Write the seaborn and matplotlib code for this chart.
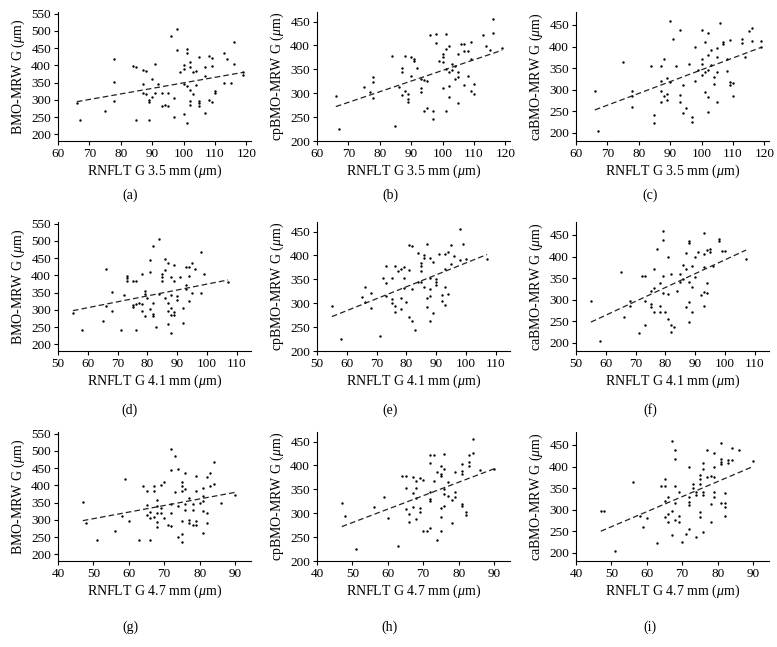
"""
Scatter plots of BMO-MRW sectors vs RNFLT at three scan radii
"""
import matplotlib
matplotlib.use("Agg")
import matplotlib.pyplot as plt
import seaborn as sns
import pandas as pd

# panel (a): RNFLT 3.5 vs BMO-MRW
a_x = [66, 67, 75, 78, 78, 78, 84, 85, 85, 87, 88, 87, 87, 88, 89, 89, 89, 90, 90, 91,
       91, 92, 93, 93, 94, 95, 95, 96, 97, 97, 98, 98, 99, 100, 100, 100, 100, 101, 101, 101,
       101, 102, 102, 102, 102, 102, 103, 103, 104, 104, 105, 105, 105, 105, 107, 107, 107, 108, 108, 109,
       109, 109, 110, 110, 113, 113, 114, 115, 116, 116, 119, 119]
a_y = [292, 242, 268, 420, 352, 298, 398, 396, 242, 386, 385, 345, 320, 318, 300, 295, 242, 360, 310, 405,
       320, 345, 282, 320, 285, 283, 320, 484, 305, 252, 506, 446, 380, 400, 390, 345, 260, 447, 436, 340,
       232, 410, 395, 330, 298, 285, 380, 318, 385, 342, 425, 298, 290, 283, 395, 370, 262, 428, 300, 423,
       398, 293, 325, 320, 436, 350, 418, 348, 468, 405, 380, 373]

# panel (b): RNFLT 3.5 vs cpBMO-MRW
b_x = [66, 67, 75, 77, 78, 78, 78, 84, 85, 86, 87, 87, 87, 88, 88, 89, 89, 89, 90, 90,
       91, 91, 92, 93, 93, 93, 94, 94, 95, 95, 96, 97, 97, 98, 98, 99, 100, 100, 100, 100,
       101, 101, 101, 101, 102, 102, 102, 102, 103, 103, 104, 104, 105, 105, 105, 105, 106, 107, 107, 107,
       108, 108, 109, 109, 109, 110, 110, 113, 114, 115, 116, 116, 119]
b_y = [295, 225, 314, 302, 333, 323, 290, 378, 232, 312, 352, 345, 296, 377, 305, 287, 282, 298, 376, 337,
       372, 367, 352, 330, 310, 302, 328, 263, 270, 325, 422, 262, 245, 423, 406, 368, 383, 375, 365, 310,
       424, 392, 350, 263, 398, 345, 315, 292, 362, 348, 358, 330, 382, 345, 335, 280, 403, 403, 388, 318,
       388, 337, 408, 372, 305, 320, 298, 422, 398, 390, 455, 426, 395]

# panel (c): RNFLT 3.5 vs caBMO-MRW
c_x = [66, 67, 75, 78, 78, 78, 84, 85, 85, 87, 87, 87, 87, 88, 88, 89, 89, 89, 90, 90,
       91, 92, 93, 93, 93, 94, 94, 95, 96, 97, 97, 98, 98, 99, 100, 100, 100, 100, 101, 101,
       101, 102, 102, 102, 102, 102, 103, 103, 104, 104, 105, 105, 105, 105, 106, 107, 107, 108, 108, 109,
       109, 109, 110, 110, 113, 113, 114, 115, 116, 116, 119, 119]
c_y = [298, 205, 365, 297, 285, 260, 355, 242, 222, 355, 320, 298, 272, 370, 285, 290, 275, 328, 460, 318,
       418, 355, 438, 288, 272, 310, 245, 257, 360, 225, 237, 398, 320, 345, 438, 370, 360, 335, 410, 340,
       295, 432, 380, 345, 282, 248, 393, 358, 330, 312, 397, 375, 340, 272, 455, 410, 405, 372, 344, 415,
       318, 310, 315, 286, 417, 407, 375, 437, 442, 413, 412, 398]

# panel (d): RNFLT 4.1 vs BMO-MRW
d_x = [55, 58, 65, 66, 66, 68, 68, 71, 72, 73, 73, 73, 75, 75, 75, 76, 76, 76, 77, 78,
       78, 78, 79, 79, 79, 80, 81, 81, 81, 82, 82, 82, 82, 83, 84, 84, 85, 85, 85, 86,
       86, 86, 87, 87, 87, 87, 88, 88, 88, 88, 88, 89, 89, 89, 89, 90, 90, 91, 92, 92,
       93, 93, 93, 94, 94, 94, 95, 95, 96, 98, 98, 99, 107]
d_y = [292, 242, 268, 420, 312, 352, 298, 242, 342, 398, 392, 383, 385, 315, 308, 383, 318, 242, 320, 318,
       298, 403, 355, 345, 282, 335, 445, 410, 302, 484, 320, 288, 282, 250, 505, 345, 395, 385, 405, 448,
       415, 335, 435, 320, 298, 260, 395, 342, 305, 285, 233, 430, 383, 293, 285, 340, 330, 395, 262, 305,
       425, 372, 362, 425, 398, 325, 435, 350, 418, 468, 348, 403, 380]

# panel (e): RNFLT 4.1 vs cpBMO-MRW
e_x = [55, 58, 65, 66, 66, 68, 68, 71, 72, 73, 73, 73, 75, 75, 75, 76, 76, 76, 77, 78,
       78, 78, 79, 79, 79, 80, 81, 81, 81, 82, 82, 82, 83, 84, 84, 85, 85, 85, 85, 86,
       86, 86, 87, 87, 87, 88, 88, 88, 88, 88, 89, 89, 90, 90, 90, 91, 92, 92, 93, 93,
       93, 93, 94, 94, 95, 95, 96, 98, 98, 99, 100, 107]
e_y = [295, 225, 313, 333, 302, 322, 290, 232, 352, 378, 343, 315, 352, 308, 300, 378, 295, 282, 367, 372,
       310, 287, 375, 352, 332, 303, 422, 370, 272, 420, 262, 330, 245, 405, 345, 385, 378, 368, 345, 400,
       395, 335, 425, 310, 292, 395, 352, 330, 315, 263, 387, 280, 350, 345, 338, 403, 318, 305, 402, 372,
       335, 297, 407, 320, 422, 382, 398, 455, 390, 425, 393, 392]

# panel (f): RNFLT 4.1 vs caBMO-MRW
f_x = [55, 58, 65, 66, 68, 68, 71, 72, 73, 73, 73, 75, 75, 75, 76, 76, 76, 77, 78, 78,
       78, 79, 79, 79, 79, 80, 81, 81, 81, 82, 82, 82, 83, 84, 85, 85, 86, 86, 87, 87,
       87, 88, 88, 88, 88, 88, 89, 89, 89, 90, 90, 91, 92, 93, 93, 93, 93, 93, 94, 94,
       94, 95, 95, 96, 98, 98, 99, 100, 107]
f_y = [298, 205, 365, 260, 297, 285, 222, 355, 355, 298, 242, 290, 282, 320, 370, 328, 272, 418, 285, 272,
       338, 460, 438, 355, 315, 272, 398, 312, 256, 360, 242, 226, 236, 320, 360, 340, 380, 348, 408, 372,
       282, 436, 432, 340, 295, 248, 378, 330, 272, 398, 352, 410, 310, 455, 405, 375, 318, 286, 415, 338,
       316, 418, 410, 378, 440, 436, 413, 413, 395]

# panel (g): RNFLT 4.7 vs BMO-MRW
g_x = [47, 48, 51, 56, 58, 59, 60, 63, 64, 65, 65, 65, 66, 66, 66, 67, 67, 67, 68, 68,
       68, 68, 68, 69, 69, 69, 70, 70, 71, 72, 72, 72, 72, 72, 73, 73, 74, 74, 74, 75,
       75, 75, 75, 75, 75, 76, 76, 76, 76, 77, 77, 77, 78, 78, 78, 79, 79, 79, 79, 80,
       81, 81, 81, 81, 81, 82, 82, 82, 83, 83, 84, 84, 86, 90]
g_y = [352, 292, 242, 268, 312, 420, 298, 242, 398, 385, 342, 315, 242, 322, 305, 398, 385, 310, 358, 340,
       320, 295, 280, 402, 335, 320, 410, 305, 285, 505, 445, 345, 320, 282, 484, 380, 448, 340, 250, 410,
       398, 385, 298, 260, 235, 435, 390, 345, 330, 365, 300, 292, 345, 330, 285, 428, 385, 298, 285, 350,
       392, 370, 355, 325, 262, 425, 320, 292, 435, 398, 468, 405, 348, 373]

# panel (h): RNFLT 4.7 vs cpBMO-MRW
h_x = [47, 48, 51, 56, 59, 60, 63, 64, 65, 65, 65, 66, 66, 67, 67, 67, 68, 68, 68, 68,
       69, 69, 69, 70, 70, 71, 72, 72, 72, 72, 72, 72, 73, 73, 74, 74, 75, 75, 75, 75,
       75, 75, 76, 76, 76, 76, 76, 77, 77, 78, 78, 79, 79, 79, 81, 81, 81, 81, 81, 82,
       82, 83, 83, 83, 84, 84, 86, 90]
h_y = [322, 295, 225, 313, 333, 290, 232, 378, 378, 352, 308, 298, 282, 375, 342, 313, 367, 352, 332, 288,
       373, 310, 302, 370, 262, 262, 422, 405, 345, 330, 325, 270, 422, 368, 387, 245, 398, 382, 378, 310,
       292, 262, 425, 392, 350, 340, 315, 365, 337, 328, 280, 387, 345, 335, 402, 388, 382, 320, 315, 303,
       297, 422, 408, 398, 455, 427, 390, 393]

# panel (i): RNFLT 4.7 vs caBMO-MRW
i_x = [47, 48, 51, 56, 58, 59, 60, 63, 64, 65, 65, 65, 65, 66, 66, 66, 67, 67, 67, 68,
       68, 68, 68, 68, 69, 69, 69, 70, 71, 72, 72, 72, 72, 72, 73, 73, 74, 74, 74, 75,
       75, 75, 75, 75, 76, 76, 76, 76, 76, 77, 77, 78, 78, 78, 79, 79, 79, 79, 79, 81,
       81, 81, 81, 81, 82, 82, 82, 82, 83, 83, 84, 84, 86, 90]
i_y = [298, 298, 205, 365, 285, 260, 280, 222, 355, 370, 355, 320, 282, 330, 290, 272, 460, 298, 242, 438,
       418, 355, 315, 275, 340, 285, 272, 225, 243, 398, 330, 318, 310, 256, 360, 350, 342, 335, 236, 380,
       370, 360, 295, 282, 408, 395, 340, 335, 248, 438, 375, 378, 312, 272, 432, 398, 375, 342, 330, 455,
       418, 410, 405, 315, 338, 315, 307, 286, 415, 408, 442, 415, 438, 412]

# dashed fit lines (end points)
fit_x = {"a": [66, 119], "b": [66, 119], "c": [66, 119],
         "d": [55, 107], "e": [55, 107], "f": [55, 107],
         "g": [47, 90], "h": [47, 90], "i": [47, 90]}
fit_y = {"a": [295, 380], "b": [272, 390], "c": [253, 398],
         "d": [298, 387], "e": [272, 402], "f": [248, 415],
         "g": [298, 380], "h": [272, 393], "i": [250, 400]}

x_labels = ["RNFLT G 3.5 mm ($\\mu$m)", "RNFLT G 4.1 mm ($\\mu$m)", "RNFLT G 4.7 mm ($\\mu$m)"]
y_labels = ["BMO-MRW G ($\\mu$m)", "cpBMO-MRW G ($\\mu$m)", "caBMO-MRW G ($\\mu$m)"]
x_ticks = [range(60, 121, 10), range(50, 111, 10), range(40, 91, 10)]
y_ticks = [range(200, 551, 50), range(200, 451, 50), range(200, 451, 50)]
x_lims = [(60, 121.5), (50, 114.7), (40, 94.5)]
y_lims = [(181, 555), (200, 470), (181, 480)]

panels = [("a", a_x, a_y), ("b", b_x, b_y), ("c", c_x, c_y),
          ("d", d_x, d_y), ("e", e_x, e_y), ("f", f_x, f_y),
          ("g", g_x, g_y), ("h", h_x, h_y), ("i", i_x, i_y)]

sns.set_theme(style="ticks")
plt.rcParams["font.family"] = ["Liberation Serif", "DejaVu Serif"]
plt.rcParams["mathtext.fontset"] = "custom"
plt.rcParams["mathtext.rm"] = "Liberation Serif"
plt.rcParams["mathtext.it"] = "Liberation Serif:italic"
plt.rcParams["text.color"] = "black"
plt.rcParams["axes.labelcolor"] = "black"
plt.rcParams["xtick.color"] = "black"
plt.rcParams["ytick.color"] = "black"
plt.rcParams["axes.edgecolor"] = "black"

W, H = 777, 647
fig = plt.figure(figsize=(W / 100, H / 100), dpi=100)

col_left = [58, 317, 576]
row_top = [12, 222, 432]
ax_w, ax_h = 193, 129
label_x = [130, 390, 650]
label_y = [195, 410, 627]

for k, (tag, xs, ys) in enumerate(panels):
    r, c = divmod(k, 3)
    ax = fig.add_axes([col_left[c] / W, 1 - (row_top[r] + ax_h) / H, ax_w / W, ax_h / H])
    df = pd.DataFrame({"x": xs, "y": ys})
    sns.scatterplot(data=df, x="x", y="y", ax=ax, color="black", s=3, linewidth=0)
    line = pd.DataFrame({"x": fit_x[tag], "y": fit_y[tag]})
    sns.lineplot(data=line, x="x", y="y", ax=ax, color="#222222", linewidth=0.9,
                 linestyle=(0, (4.5, 2.5)))
    ax.set_xlim(*x_lims[r])
    ax.set_ylim(*y_lims[c])
    ax.set_xticks(list(x_ticks[r]))
    ax.set_yticks(list(y_ticks[c]))
    ax.set_xlabel(x_labels[r], fontsize=10, labelpad=2)
    ax.set_ylabel(y_labels[c], fontsize=10, labelpad=3)
    ax.tick_params(labelsize=9.5, length=3, width=0.8, pad=2)
    for side in ["top", "right"]:
        ax.spines[side].set_visible(False)
    for side in ["left", "bottom"]:
        ax.spines[side].set_linewidth(0.8)
    ax.grid(False)
    fig.text(label_x[c] / W, 1 - label_y[r] / H, f"({tag})", fontsize=10,
             ha="center", va="center")

fig.savefig("out.png", dpi=100, facecolor="white")
